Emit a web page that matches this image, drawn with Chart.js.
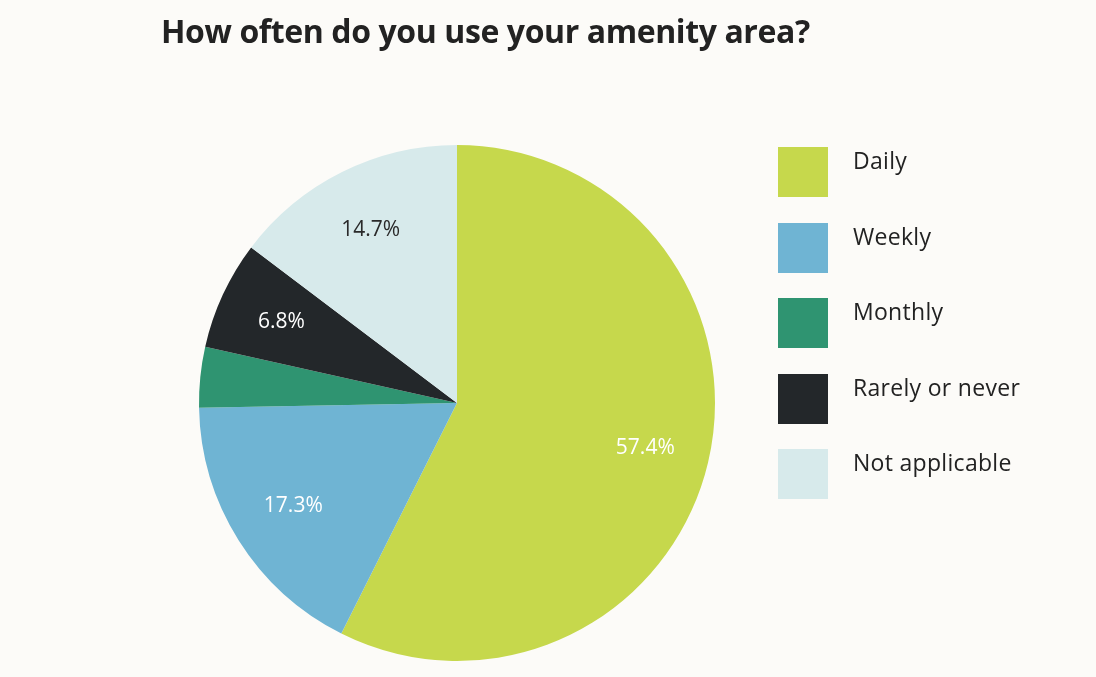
<!DOCTYPE html>
<html lang="en">
  <head>
    <meta charset="UTF-8" />
    <title>Amenity area use</title>
    <style>
      body { margin: 0; background: #fcfbf8; font-family: "Open Sans", sans-serif; }
      #wrap { position: relative; width: 1096px; height: 677px; }
      #myChart { position: absolute; left: 0; top: 0; }
      h1 {
        position: absolute; left: 161px; top: 9px; margin: 0;
        font-size: 32px; font-weight: 700; color: #222; letter-spacing: -0.4px;
      }
      #legend { position: absolute; left: 778px; top: 147px; }
      .item { display: flex; align-items: flex-start; height: 50px; margin-bottom: 25.5px; }
      .box { width: 50px; height: 50px; margin-right: 25px; }
      .txt { font-size: 23px; color: #222; line-height: 26px; letter-spacing: 0.3px; }
    </style>
  </head>
  <body>
    <div id="wrap">
      <canvas id="myChart" width="1096" height="677"></canvas>
      <h1>How often do you use your amenity area?</h1>
      <div id="legend"></div>
    </div>
  </body>
  <script src="https://cdn.jsdelivr.net/npm/chart.js"></script>
  <script>
    // answers and share of respondents (%)
    let labels = ["Daily", "Weekly", "Monthly", "Rarely or never", "Not applicable"];
    let values = [57.4, 17.3, 3.8, 6.8, 14.7];
    let colors = ["#c6d84c", "#6fb4d3", "#2f9471", "#23272a", "#d7eaeb"];
    let labelColors = ["#ffffff", "#ffffff", "#ffffff", "#ffffff", "#2a2a2a"];

    // legend on the right
    let legend = document.getElementById("legend");
    for (let i = 0; i < labels.length; i++) {
      let item = document.createElement("div");
      item.className = "item";
      item.innerHTML =
        '<div class="box" style="background:' + colors[i] + '"></div>' +
        '<div class="txt">' + labels[i] + "</div>";
      legend.appendChild(item);
    }

    // percentage text inside the slices (small slices stay blank)
    const sliceLabels = {
      id: "sliceLabels",
      afterDatasetsDraw(chart) {
        let ctx = chart.ctx;
        let arcs = chart.getDatasetMeta(0).data;
        ctx.save();
        ctx.font = "21px 'Open Sans'";
        ctx.textAlign = "center";
        ctx.textBaseline = "middle";
        arcs.forEach((arc, i) => {
          if (values[i] < 5) return;
          let p = arc.getProps(["x", "y", "startAngle", "endAngle", "outerRadius"], true);
          let mid = (p.startAngle + p.endAngle) / 2;
          let r = p.outerRadius * 0.75;
          ctx.fillStyle = labelColors[i];
          ctx.fillText(values[i].toFixed(1) + "%", p.x + Math.cos(mid) * r, p.y + Math.sin(mid) * r);
        });
        ctx.restore();
      },
    };

    var ctx = document.getElementById("myChart").getContext("2d");
    var chart = new Chart(ctx, {
      type: "pie",
      data: {
        labels: labels,
        datasets: [
          {
            data: values,
            backgroundColor: colors,
            borderWidth: 0,
          },
        ],
      },
      options: {
        responsive: false,
        animation: false,
        layout: { padding: { left: 198, right: 380, top: 145, bottom: 16 } },
        plugins: {
          legend: { display: false },
          tooltip: { enabled: false },
        },
      },
      plugins: [sliceLabels],
    });
  </script>
</html>
